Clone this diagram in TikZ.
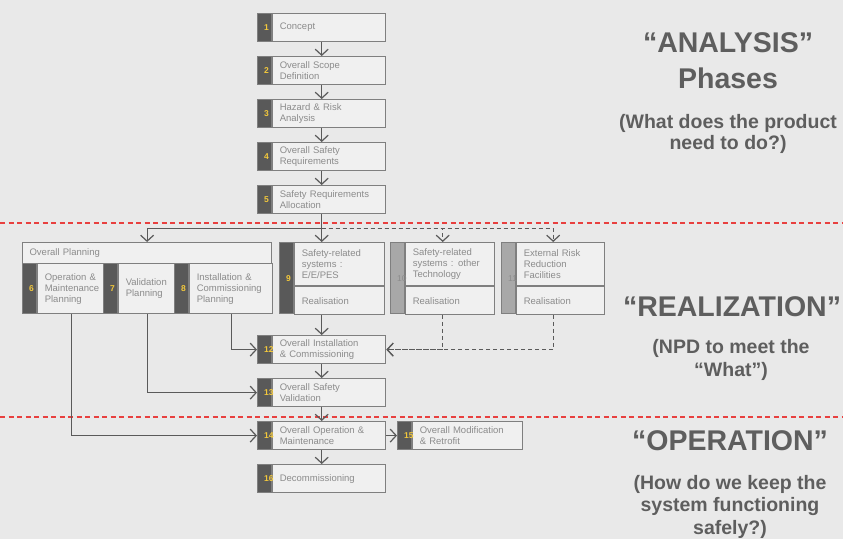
\documentclass[tikz,border=0pt]{standalone}
\usepackage{fontspec}
\setmainfont{Liberation Sans}
\usetikzlibrary{arrows.meta}
\usetikzlibrary{calc}

\definecolor{bggray}{HTML}{E9E9E9}
\definecolor{boxfill}{HTML}{F0F0F0}
\definecolor{linegray}{HTML}{7F7F7F}
\definecolor{arrowgray}{HTML}{5A5A5A}
\definecolor{tabdark}{HTML}{595959}
\definecolor{tablight}{HTML}{A8A8A8}
\definecolor{numyellow}{HTML}{F2C83C}
\definecolor{boxtext}{HTML}{8C8C8C}
\definecolor{headgray}{HTML}{5E5E5E}
\definecolor{phasered}{HTML}{E8403F}

\tikzset{
  stepbox/.style={draw=linegray, line width=1.2pt, fill=boxfill, anchor=north west,
    inner xsep=7pt, inner ysep=1pt, align=left, text=boxtext,
    font={\fontsize{9.5}{11}\selectfont\hyphenpenalty=10000}},
  tabbox/.style={draw=linegray, line width=1.2pt, fill=tabdark, anchor=north west,
    minimum width=14pt, inner sep=0pt},
  numtext/.style={anchor=west, text=numyellow, inner sep=0pt,
    font=\fontsize{8.5}{8.5}\selectfont\bfseries},
  arr/.style={draw=arrowgray, line width=1.2pt, -{Straight Barb[length=6pt,width=13pt]}},
  darr/.style={arr, dash pattern=on 4pt off 3pt},
  phaseline/.style={draw=phasered, line width=1.5pt, dash pattern=on 5pt off 3.5pt},
  headline/.style={anchor=base, text=headgray, font=\fontsize{28.5}{30}\selectfont\bfseries},
  subline/.style={anchor=base, text=headgray, font=\fontsize{19.5}{21}\selectfont\bfseries},
}

% tab colour, name, number, x, y, box width, height, text
\newcommand{\stage}[8][tabdark]{%
  \node[tabbox, fill=#1, minimum height=#7pt] (#2t) at (#4,#5) {};
  \node[stepbox, minimum width=#6pt, minimum height=#7pt, text width=\fpeval{#6-14}pt] (#2) at (#2t.north east) {#8};
  \node[numtext] (#2n) at ([xshift=7pt]#2t.west) {#3};
  \coordinate (#2-n) at ($(#2t.north west)!.5!(#2.north east)$);
  \coordinate (#2-s) at ($(#2t.south west)!.5!(#2.south east)$);
}

\begin{document}
\begin{tikzpicture}[x=1pt, y=-1pt]
    \fill[bggray] (0,0) rectangle (843,539);
    \useasboundingbox (0,0) rectangle (843,539);

    % phase borders
    \draw[phaseline] (0,223) -- (843,223);
    \draw[phaseline] (0,417) -- (843,417);

    % analysis
    \stage{s1}{1}{257}{13}{113}{28}{Concept}
    \stage{s2}{2}{257}{56}{113}{28}{Overall Scope\\Definition}
    \stage{s3}{3}{257}{99}{113}{28}{Hazard \& Risk\\Analysis}
    \stage{s4}{4}{257}{142}{113}{28}{Overall Safety\\Requirements}
    \stage{s5}{5}{257}{185}{113}{28}{Safety Requirements\\Allocation}

    % realization
    \node[stepbox, minimum width=249pt, minimum height=21pt, text width=235pt] (plan) at (22,242) {Overall Planning};
    \stage{s6}{6}{22}{263}{67}{50}{Operation \&\\Maintenance\\Planning}
    \stage{s7}{7}{103}{263}{57}{50}{Validation\\Planning}
    \stage{s8}{8}{174}{263}{83}{50}{Installation \&\\Commissioning\\Planning}

    \node[tabbox, minimum height=71pt] (s9t) at (279,242) {};
    \node[stepbox, minimum width=90pt, minimum height=43pt, text width=76pt] (s9u) at (s9t.north east) {Safety-related\\systems :\\E/E/PES};
    \node[stepbox, minimum width=90pt, minimum height=28pt, text width=76pt] (s9l) at (s9u.south west) {Realisation};
    \node[numtext] (s9n) at ([xshift=7pt]s9t.west) {9};

    \node[tabbox, fill=tablight, minimum height=71pt] (s10t) at (390,242) {};
    \node[stepbox, minimum width=89pt, minimum height=43pt, text width=75pt] (s10u) at (s10t.north east) {Safety-related\\systems : other\\Technology};
    \node[stepbox, minimum width=89pt, minimum height=28pt, text width=75pt] (s10l) at (s10u.south west) {Realisation};
    \node[numtext, text=boxtext, font=\fontsize{8.5}{8.5}\selectfont] (s10n) at ([xshift=7pt]s10t.west) {10};
    \coordinate (s10-n) at ($(s10t.north west)!.5!(s10u.north east)$);
    \coordinate (s10-s) at ($(s10t.south west)!.5!(s10l.south east)$);

    \node[tabbox, fill=tablight, minimum height=71pt] (s11t) at (501,242) {};
    \node[stepbox, minimum width=88pt, minimum height=43pt, text width=74pt] (s11u) at (s11t.north east) {External Risk\\Reduction\\Facilities};
    \node[stepbox, minimum width=88pt, minimum height=28pt, text width=74pt] (s11l) at (s11u.south west) {Realisation};
    \node[numtext, text=boxtext, font=\fontsize{8.5}{8.5}\selectfont] (s11n) at ([xshift=7pt]s11t.west) {11};
    \coordinate (s11-n) at ($(s11t.north west)!.5!(s11u.north east)$);
    \coordinate (s11-s) at ($(s11t.south west)!.5!(s11l.south east)$);

    \stage{s12}{12}{257}{335}{113}{28}{Overall Installation\\\& Commissioning}
    \stage{s13}{13}{257}{378}{113}{28}{Overall Safety\\Validation}

    % operation
    \stage{s14}{14}{257}{421}{113}{28}{Overall Operation \&\\Maintenance}
    \stage{s15}{15}{397}{421}{110}{28}{Overall Modification\\\& Retrofit}
    \stage{s16}{16}{257}{464}{113}{28}{Decommissioning}

    % flow
    \foreach \a/\b in {s1/s2,s2/s3,s3/s4,s4/s5,s12/s13,s13/s14,s14/s16}
        \draw[arr] (\a-s) -- (\b-n);
    \coordinate (split) at ([yshift=-14pt]s5-s);
    \draw[arr] (s5-s) -- (split) -| (plan.north);
    \draw[arr] (split) -- (split |- s9u.north);
    \draw[darr] (split) -| (s10-n);
    \draw[darr] (split) -| (s11-n);
    \draw[arr] (s9l.south -| split) -- (s12-n);
    \draw[darr] (s10-s) |- (s12.east);
    \draw[darr] (s11-s) |- (s12.east);
    \draw[arr] (s8.south) |- (s12t.west);
    \draw[arr] (s7.south) |- (s13t.west);
    \draw[arr] (s6.south) |- (s14t.west);
    \draw[arr] (s14.east) -- (s15t.west);

    % phase captions
    \node[headline] (anaA) at (728,52) {“ANALYSIS”};
    \node[headline] (anaB) at (728,88) {Phases};
    \node[subline] (anaC) at (728,128) {(What does the product};
    \node[subline] (anaD) at (728,149) {need to do?)};
    \node[headline] (realA) at (732,316) {“REALIZATION”};
    \node[subline] (realB) at (731,353) {(NPD to meet the};
    \node[subline] (realC) at (731,376) {“What”)};
    \node[headline] (opA) at (730,450) {“OPERATION”};
    \node[subline] (opB) at (730,489) {(How do we keep the};
    \node[subline] (opC) at (730,511) {system functioning};
    \node[subline] (opD) at (730,534) {safely?)};
\end{tikzpicture}
\end{document}
